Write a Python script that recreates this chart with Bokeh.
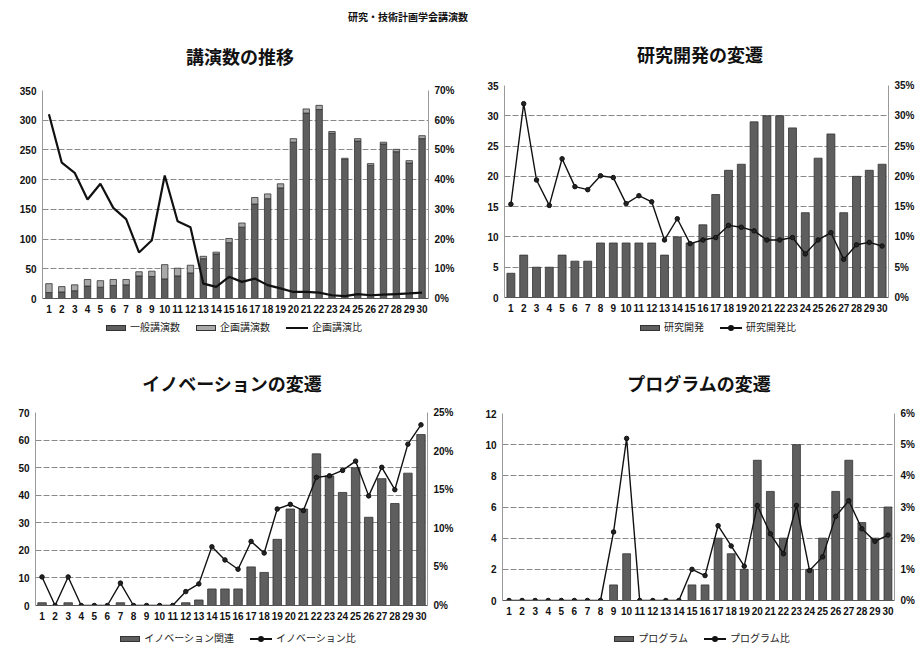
from jinja2 import Template
from bokeh.plotting import figure
from bokeh.models import (Range1d, LinearAxis, FixedTicker, PrintfTickFormatter,
                          Div, ColumnDataSource)
from bokeh.embed import file_html
from bokeh.resources import INLINE

# ---------------- data ----------------
categories = list(range(1, 31))

# 講演数の推移
general_talks = [10, 11, 13, 21, 19, 22, 23, 38, 37, 33, 38, 43, 67, 75, 94, 120, 159, 168,
                 186, 263, 312, 318, 278, 234, 265, 224, 260, 247, 228, 269]
planned_talks = [15, 9, 10, 11, 11, 10, 9, 7, 9, 24, 13, 13, 4, 3, 7, 7, 11, 8,
                 7, 6, 7, 7, 3, 2, 4, 3, 3, 4, 4, 5]
planned_ratio = [62, 45.7, 42.3, 33.3, 38.6, 30.5, 26.7, 15.5, 19.6, 41.4, 26, 24, 5, 3.9, 7.3,
                 5.6, 6.7, 4.5, 3.4, 2.2, 2.2, 2.0, 1.1, 0.8, 1.5, 1.1, 1.3, 1.5, 1.7, 2.0]
# 研究開発の変遷
rd_talks = [4, 7, 5, 5, 7, 6, 6, 9, 9, 9, 9, 9, 7, 10, 9, 12, 17, 21, 22, 29, 30, 30, 28, 14,
            23, 27, 14, 20, 21, 22]
rd_ratio = [15.4, 32, 19.4, 15.2, 22.9, 18.3, 17.8, 20.1, 19.8, 15.5, 16.8, 15.8, 9.5, 13, 8.9,
            9.5, 9.9, 11.9, 11.6, 11, 9.5, 9.5, 9.9, 7.2, 9.5, 10.7, 6.3, 8.7, 9.1, 8.5]
# イノベーションの変遷
innov_talks = [1, 0, 1, 0, 0, 0, 1, 0, 0, 0, 0, 1, 2, 6, 6, 6, 14, 12, 24, 35, 35, 55, 47, 41,
               50, 32, 46, 37, 48, 62]
innov_ratio = [3.7, 0, 3.7, 0, 0, 0, 2.9, 0, 0, 0, 0, 1.8, 2.8, 7.6, 5.9, 4.7, 8.3, 6.8, 12.5,
               13.1, 12.3, 16.6, 16.8, 17.5, 18.7, 14.2, 17.9, 15.0, 20.9, 23.4]
# プログラムの変遷
prog_talks = [0, 0, 0, 0, 0, 0, 0, 0, 1, 3, 0, 0, 0, 0, 1, 1, 4, 3, 2, 9, 7, 4, 10, 2, 4, 7,
              9, 5, 4, 6]
prog_ratio = [0, 0, 0, 0, 0, 0, 0, 0, 2.2, 5.2, 0, 0, 0, 0, 1.0, 0.8, 2.4, 1.75, 1.1, 3.05,
              2.14, 1.5, 3.05, 0.96, 1.4, 2.7, 3.2, 2.3, 1.9, 2.1]

main_title = "研究・技術計画学会講演数"
chart_titles = ["講演数の推移", "研究開発の変遷", "イノベーションの変遷", "プログラムの変遷"]
legend1_labels = ["一般講演数", "企画講演数", "企画講演比"]
legend2_labels = ["研究開発", "研究開発比"]
legend3_labels = ["イノベーション関連", "イノベーション比"]
legend4_labels = ["プログラム", "プログラム比"]

JP = "'Noto Sans CJK JP'"
NUM = "Liberation Sans"
BAR_DARK = "#5e5e5e"
BAR_LIGHT = "#a9a9a9"


def make_chart(fw, fh, bl, br, bt, bb, ymax, ystep, rmax, rstep):
    p = figure(frame_width=fw, frame_height=fh, x_range=Range1d(0.5, 30.5),
               y_range=Range1d(0, ymax), output_backend="svg", toolbar_location=None,
               min_border_left=bl, min_border_right=br,
               min_border_top=bt, min_border_bottom=bb)
    p.outline_line_color = None

    p.extra_y_ranges = {"r": Range1d(0, rmax)}
    raxis = LinearAxis(y_range_name="r")
    p.add_layout(raxis, "right")

    p.xaxis.ticker = FixedTicker(ticks=categories)
    p.yaxis[0].ticker = FixedTicker(ticks=list(range(0, ymax + 1, ystep)))
    raxis.ticker = FixedTicker(ticks=list(range(0, rmax + 1, rstep)))
    raxis.formatter = PrintfTickFormatter(format="%d%%")

    for ax in p.axis:
        ax.major_tick_out = 0
        ax.major_tick_in = 0
        ax.minor_tick_out = 0
        ax.minor_tick_in = 0
        ax.major_tick_line_color = None
        ax.minor_tick_line_color = None
        ax.axis_line_color = "#9a9a9a"
        ax.major_label_text_font = NUM
        ax.major_label_text_font_size = "10px"
        ax.major_label_text_font_style = "bold"
        ax.major_label_text_color = "#111111"
        ax.major_label_standoff = 6
    p.xaxis.axis_line_color = "#555555"
    p.xgrid.grid_line_color = None
    p.ygrid.grid_line_color = "#8a8a8a"
    p.ygrid.grid_line_dash = "6 2"
    return p


# ---- chart 1 ----
p1 = make_chart(386, 208, 42, 30, 15, 19, 350, 50, 70, 10)
src1 = ColumnDataSource(dict(x=categories, general=general_talks, planned=planned_talks,
                             ratio=planned_ratio))
p1.vbar_stack(["general", "planned"], x="x", width=0.5, source=src1,
              fill_color=[BAR_DARK, BAR_LIGHT], line_color="#333333", line_width=0.8)
p1.line("x", "ratio", source=src1, y_range_name="r", line_color="#111111", line_width=2.2)


def simple_chart(fw, fh, bl, br, bt, bb, ymax, ystep, rmax, rstep, talks, ratio, bw):
    p = make_chart(fw, fh, bl, br, bt, bb, ymax, ystep, rmax, rstep)
    src = ColumnDataSource(dict(x=categories, talks=talks, ratio=ratio))
    p.vbar(x="x", top="talks", width=bw, source=src, fill_color=BAR_DARK,
           line_color="#333333", line_width=0.8)
    p.line("x", "ratio", source=src, y_range_name="r", line_color="#111111", line_width=1.4)
    p.scatter("x", "ratio", source=src, y_range_name="r", size=4.5,
              fill_color="#222222", line_color="#111111")
    return p


p2 = simple_chart(384, 212, 46, 28, 10, 20, 35, 5, 35, 5, rd_talks, rd_ratio, 0.62)
p3 = simple_chart(392, 193, 35, 31, 12, 23, 70, 10, 25, 5, innov_talks, innov_ratio, 0.65)
p4 = simple_chart(392, 187, 44, 22, 13, 28, 12, 2, 6, 1, prog_talks, prog_ratio, 0.6)


# ---- HTML pieces: titles and legends ----
def text_div(html, width, height):
    return Div(text=html, width=width, height=height, margin=0)


def title_div(text, shift, pad_top):
    html = (f'<div style="width:458px;height:100%;box-sizing:border-box;text-align:center;'
            f'padding-left:{shift}px;padding-top:{pad_top}px;font-family:{JP};'
            f'font-size:18px;line-height:26px;font-weight:bold;color:#111;">{text}</div>')
    return text_div(html, 458, None)


def bar_swatch(color):
    return (f'<span style="display:inline-block;width:20px;height:6px;background:{color};'
            f'border:1px solid #333;vertical-align:middle;margin-right:4px;"></span>')


def line_swatch(marker):
    dot = ('<span style="position:absolute;left:8px;top:2px;width:6px;height:6px;'
           'border-radius:3px;background:#111;"></span>') if marker else ''
    return ('<span style="display:inline-block;position:relative;width:22px;height:10px;'
            'vertical-align:middle;margin-right:4px;">'
            '<span style="position:absolute;left:0;top:4px;width:22px;height:2px;'
            'background:#111;"></span>' + dot + '</span>')


def legend_div(parts, shift):
    items = "".join(f'<span style="margin:0 8px;white-space:nowrap;">{sw}{lab}</span>'
                    for sw, lab in parts)
    html = (f'<div style="width:458px;height:20px;box-sizing:border-box;text-align:center;'
            f'padding-left:{shift}px;font-family:{JP};font-size:10px;line-height:20px;'
            f'color:#222;">{items}</div>')
    return text_div(html, 458, 20)


head = text_div(f'<div style="width:916px;height:30px;box-sizing:border-box;'
                f'padding-left:348px;padding-top:10px;font-family:{JP};font-size:10px;'
                f'line-height:14px;font-weight:bold;color:#111;">{main_title}</div>', 916, 30)

t1 = title_div(chart_titles[0], 22, 13)
t2 = title_div(chart_titles[1], 26, 11)
t1.height = 45
t2.height = 45
t3 = title_div(chart_titles[2], 6, 33)
t4 = title_div(chart_titles[3], 24, 33)
t3.height = 63
t4.height = 63

lg1 = legend_div([(bar_swatch(BAR_DARK), legend1_labels[0]),
                  (bar_swatch(BAR_LIGHT), legend1_labels[1]),
                  (line_swatch(False), legend1_labels[2])], 10)
lg2 = legend_div([(bar_swatch(BAR_DARK), legend2_labels[0]),
                  (line_swatch(True), legend2_labels[1])], 62)
lg3 = legend_div([(bar_swatch(BAR_DARK), legend3_labels[0]),
                  (line_swatch(True), legend3_labels[1])], 18)
lg4 = legend_div([(bar_swatch(BAR_DARK), legend4_labels[0]),
                  (line_swatch(True), legend4_labels[1])], 30)

# each piece is its own root; the page places them in a 2-column flow
PAGE = Template("""<!DOCTYPE html>
<html lang="ja">
<head>
<meta charset="utf-8">
<title>{{ title }}</title>
{{ bokeh_css }}
{{ bokeh_js }}
<style>
html, body { margin: 0; padding: 0; background: white; overflow: hidden; }
body { display: flex; flex-wrap: wrap; width: 930px; align-items: flex-start; }
</style>
</head>
<body>
{{ plot_div }}
{{ plot_script }}
</body>
</html>""")

roots = [head, t1, t2, p1, p2, lg1, lg2, t3, t4, p3, p4, lg3, lg4]
open("out.html", "w").write(file_html(roots, INLINE, title=main_title, template=PAGE))
